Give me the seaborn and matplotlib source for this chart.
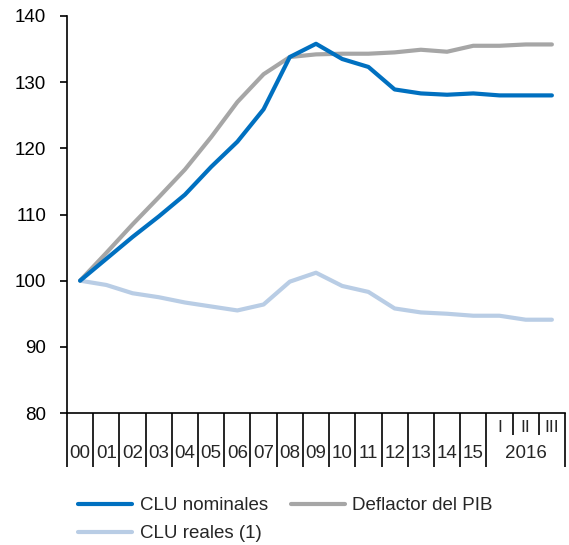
import numpy as np
import pandas as pd
import matplotlib
matplotlib.use("Agg")
import matplotlib.pyplot as plt
import matplotlib.transforms as mtransforms
import seaborn as sns

categories = ["00", "01", "02", "03", "04", "05", "06", "07", "08", "09",
              "10", "11", "12", "13", "14", "15", "I", "II", "III"]
year_label = "2016"
clu_nominales = [100.0, 103.3, 106.6, 109.7, 113.0, 117.2, 121.0, 125.9, 133.8, 135.8,
                 133.5, 132.3, 128.9, 128.3, 128.1, 128.3, 128.0, 128.0, 128.0]
deflactor_pib = [100.0, 104.2, 108.5, 112.6, 116.8, 121.7, 127.0, 131.2, 133.8, 134.2,
                 134.3, 134.3, 134.5, 134.9, 134.6, 135.5, 135.5, 135.7, 135.7]
clu_reales = [100.0, 99.35, 98.1, 97.5, 96.7, 96.1, 95.5, 96.4, 99.85, 101.2,
              99.2, 98.3, 95.8, 95.2, 95.0, 94.7, 94.7, 94.1, 94.1]
series_names = ["CLU nominales", "Deflactor del PIB", "CLU reales (1)"]
colors = ["#0070C0", "#A6A6A6", "#B9CDE5"]
yticks = [80, 90, 100, 110, 120, 130, 140]

sns.set_theme(style="white")
plt.rcParams["font.family"] = ["Liberation Sans", "DejaVu Sans"]
FS = 13.5

df = pd.concat([
    pd.DataFrame({"x": np.arange(len(categories)), "value": vals, "serie": name})
    for name, vals in zip(series_names, [clu_nominales, deflactor_pib, clu_reales])
])

fig = plt.figure(figsize=(5.69, 5.45), dpi=100)
ax = fig.add_axes([67 / 569, 1 - 413 / 545, (565 - 67) / 569, (413 - 16) / 545])

sns.lineplot(data=df, x="x", y="value", hue="serie", hue_order=series_names,
             palette=dict(zip(series_names, colors)), linewidth=3.0, ax=ax,
             legend=False, zorder=3)
for line, z in zip(ax.lines, [4, 3, 2]):
    line.set_zorder(z)
    line.set_solid_joinstyle("round")

n = len(categories)
ax.set_xlim(-0.5, n - 0.5)
ax.set_ylim(80, 140)
ax.set_yticks(yticks)
ax.set_yticklabels([str(v) for v in yticks], fontsize=FS, color="black")
ax.tick_params(axis="y", direction="out", length=5, width=1.2, color="black", pad=10, left=True)
ax.set_xticks([])
ax.set_xlabel("")
ax.set_ylabel("")
for s in ["top", "right"]:
    ax.spines[s].set_visible(False)
for s in ["left", "bottom"]:
    ax.spines[s].set_color("black")
    ax.spines[s].set_linewidth(1.2)

trans = mtransforms.blended_transform_factory(ax.transData, ax.transAxes)
px = 1.0 / (413 - 16)
n_years = 16
for b in range(n + 1):
    xb = b - 0.5
    y_end = -22 * px if n_years < b < n else -54 * px
    ax.plot([xb, xb], [0, y_end], transform=trans, color="black", lw=1.2,
            clip_on=False, solid_capstyle="butt")
for i, c in enumerate(categories):
    if i < n_years:
        ax.text(i, -41 * px, c, transform=trans, ha="center", va="center", fontsize=FS)
    else:
        ax.text(i, -15 * px, c, transform=trans, ha="center", va="center", fontsize=FS - 1)
ax.text((n_years + n - 1) / 2, -41 * px, year_label, transform=trans, ha="center",
        va="center", fontsize=FS)

handles = [plt.Line2D([], [], color=col, lw=3.0) for col in colors]
order = [0, 2, 1]
leg = fig.legend([handles[i] for i in order], [series_names[i] for i in order],
                 ncol=2, loc="upper left", bbox_to_anchor=(78 / 569, 1 - 497 / 545),
                 frameon=False, fontsize=FS, handlelength=2.9, handletextpad=0.4,
                 columnspacing=1.2, labelspacing=0.6, borderaxespad=0, borderpad=0)

fig.savefig("out.png", dpi=100)
